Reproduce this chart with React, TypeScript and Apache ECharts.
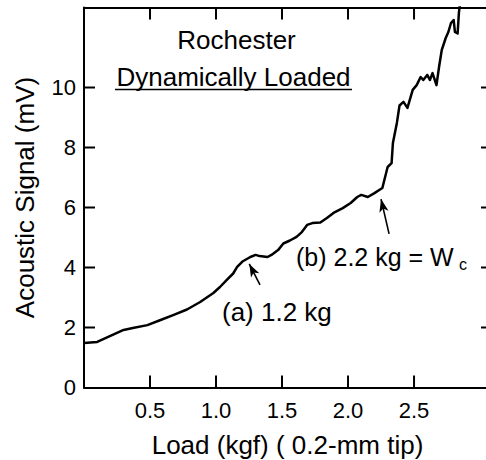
import React, { useEffect, useRef } from "react";
import * as echarts from "echarts";

const loads = [0, 0.1, 0.2, 0.3, 0.37, 0.48, 0.58, 0.68, 0.78, 0.88, 0.98, 1.03, 1.08, 1.13, 1.16, 1.2, 1.26, 1.3, 1.33, 1.39, 1.42, 1.47, 1.51, 1.56, 1.61, 1.65, 1.69, 1.73, 1.79, 1.84, 1.89, 1.96, 2.02, 2.07, 2.1, 2.15, 2.2, 2.26, 2.28, 2.3, 2.33, 2.34, 2.37, 2.39, 2.42, 2.45, 2.49, 2.52, 2.55, 2.57, 2.6, 2.62, 2.64, 2.67, 2.69, 2.71, 2.74, 2.76, 2.78, 2.8, 2.81, 2.83, 2.84, 2.86];
const signals = [1.48, 1.52, 1.72, 1.92, 1.98, 2.08, 2.25, 2.42, 2.6, 2.85, 3.15, 3.35, 3.58, 3.8, 4.02, 4.2, 4.35, 4.42, 4.38, 4.35, 4.42, 4.58, 4.8, 4.9, 5.02, 5.18, 5.42, 5.48, 5.5, 5.65, 5.82, 5.98, 6.15, 6.35, 6.42, 6.35, 6.48, 6.65, 7.0, 7.35, 7.48, 8.15, 8.82, 9.4, 9.52, 9.32, 9.92, 10.08, 10.35, 10.25, 10.42, 10.25, 10.48, 10.08, 10.7, 11.25, 11.65, 11.85, 12.15, 12.25, 11.85, 11.8, 12.5, 13.2];

const xTicks = [0.5, 1.0, 1.5, 2.0, 2.5];
const yLabels = [0, 2, 4, 6, 8, 10];
const yTicks = [2, 4, 6, 8, 10];

// annotation arrows: [tail, tip] in data coordinates
const arrowA = [[1.333, 3.42], [1.252, 4.12]];
const arrowB = [[2.311, 5.12], [2.25, 6.28]];

const FONT = "Liberation Sans, Arial, Helvetica, sans-serif";

export default function App() {
  const ref = useRef<HTMLDivElement>(null);
  useEffect(() => {
    if (!ref.current) return;
    const chart = echarts.init(ref.current, undefined, { renderer: "svg" });
    const xMin = 0, xMax = 3.083, yMin = 0, yMax = 12.667;
    const gLeft = 84, gRight = -5, gTop = 7.5, gBottom = 72.5;
    const black = "#000";

    // tick specs: [value, side] with side 0 bottom, 1 top, 2 left, 3 right
    const tickData: number[][] = [];
    xTicks.forEach((v) => { tickData.push([v, 0]); tickData.push([v, 1]); });
    yTicks.forEach((v) => { tickData.push([v, 2]); tickData.push([v, 3]); });

    const renderTick = (params: any, api: any) => {
      const v = api.value(0);
      const side = api.value(1);
      let p1: number[], p2: number[];
      if (side === 0) { p1 = api.coord([v, yMin]); p2 = [p1[0], p1[1] - 12]; }
      else if (side === 1) { p1 = api.coord([v, yMax]); p2 = [p1[0], p1[1] + 12]; }
      else if (side === 2) { p1 = api.coord([xMin, v]); p2 = [p1[0] + 11, p1[1]]; }
      else { p1 = api.coord([xMax, v]); p2 = [p1[0] - 10, p1[1]]; }
      return {
        type: "line",
        shape: { x1: p1[0], y1: p1[1], x2: p2[0], y2: p2[1] },
        style: { stroke: black, lineWidth: 2 },
        silent: true,
      };
    };

    chart.setOption({
      animation: false,
      backgroundColor: "#fff",
      textStyle: { fontFamily: FONT },
      grid: { left: gLeft, right: gRight, top: gTop, bottom: gBottom, containLabel: false, outerBoundsMode: "none" },
      xAxis: [
        {
          type: "value", position: "bottom", min: xMin, max: xMax, interval: 0.5,
          axisLine: { show: true, onZero: false, lineStyle: { color: black, width: 2 } },
          axisTick: { show: false },
          axisLabel: { show: true, customValues: xTicks, formatter: (v: number) => v.toFixed(1), fontSize: 22, color: black, margin: 12, fontFamily: FONT },
          splitLine: { show: false },
          name: "Load (kgf) ( 0.2-mm tip)", nameLocation: "middle", nameGap: 44,
          nameTextStyle: { fontSize: 26, color: black, fontFamily: FONT },
        },
        {
          type: "value", position: "top", min: xMin, max: xMax, interval: 0.5,
          axisLine: { show: true, onZero: false, lineStyle: { color: black, width: 2 } },
          axisTick: { show: false },
          axisLabel: { show: false },
          splitLine: { show: false },
        },
      ],
      yAxis: [
        {
          type: "value", position: "left", min: yMin, max: yMax, interval: 2,
          axisLine: { show: true, onZero: false, lineStyle: { color: black, width: 2 } },
          axisTick: { show: false },
          axisLabel: { show: true, customValues: yLabels, fontSize: 22, color: black, margin: 8, fontFamily: FONT },
          splitLine: { show: false },
          name: "Acoustic Signal (mV)", nameLocation: "middle", nameGap: 46, nameRotate: 90,
          nameTextStyle: { fontSize: 26, color: black, fontFamily: FONT },
        },
        {
          type: "value", position: "right", min: yMin, max: yMax, interval: 2,
          axisLine: { show: false, onZero: false },
          axisTick: { show: false },
          axisLabel: { show: false },
          splitLine: { show: false },
        },
      ],
      series: [
        {
          type: "line",
          xAxisIndex: 0,
          yAxisIndex: 0,
          data: loads.map((x, i) => [x, signals[i]]),
          showSymbol: false,
          symbol: "none",
          clip: true,
          lineStyle: { color: black, width: 2.5, join: "round" },
          silent: true,
          markLine: {
            silent: true,
            symbol: ["none", "arrow"],
            symbolSize: [7, 13],
            label: { show: false },
            lineStyle: { color: black, width: 1.6, type: "solid" },
            emphasis: { disabled: true },
            data: [
              [{ coord: arrowA[0] }, { coord: arrowA[1] }],
              [{ coord: arrowB[0] }, { coord: arrowB[1] }],
            ],
          },
        },
        {
          type: "custom",
          name: "ticks",
          xAxisIndex: 0,
          yAxisIndex: 0,
          clip: false,
          silent: true,
          z: 5,
          encode: { x: -1, y: -1 },
          data: tickData,
          renderItem: renderTick,
        },
      ],
      graphic: [
        { type: "text", x: 236.5, y: 40, silent: true, style: { text: "Rochester", fontSize: 26, fontFamily: FONT, fill: black, align: "center", verticalAlign: "middle" } },
        { type: "text", x: 233.5, y: 76.5, silent: true, style: { text: "Dynamically Loaded", fontSize: 26, fontFamily: FONT, fill: black, align: "center", verticalAlign: "middle" } },
        { type: "rect", silent: true, shape: { x: 115, y: 88.7, width: 237, height: 1.6 }, style: { fill: black } },
        { type: "text", x: 222, y: 312, silent: true, style: { text: "(a) 1.2 kg", fontSize: 26, fontFamily: FONT, fill: black, align: "left", verticalAlign: "middle" } },
        { type: "text", x: 296, y: 257, silent: true, style: { text: "(b) 2.2 kg = W", fontSize: 25, fontFamily: FONT, fill: black, align: "left", verticalAlign: "middle" } },
        { type: "text", x: 459, y: 264, silent: true, style: { text: "c", fontSize: 16, fontFamily: FONT, fill: black, align: "left", verticalAlign: "middle" } },
      ],
    });
    return () => chart.dispose();
  }, []);
  return (
    <div
      ref={ref}
      style={{ position: "fixed", left: 0, top: 0, width: 486, height: 460, background: "#fff" }}
    />
  );
}
